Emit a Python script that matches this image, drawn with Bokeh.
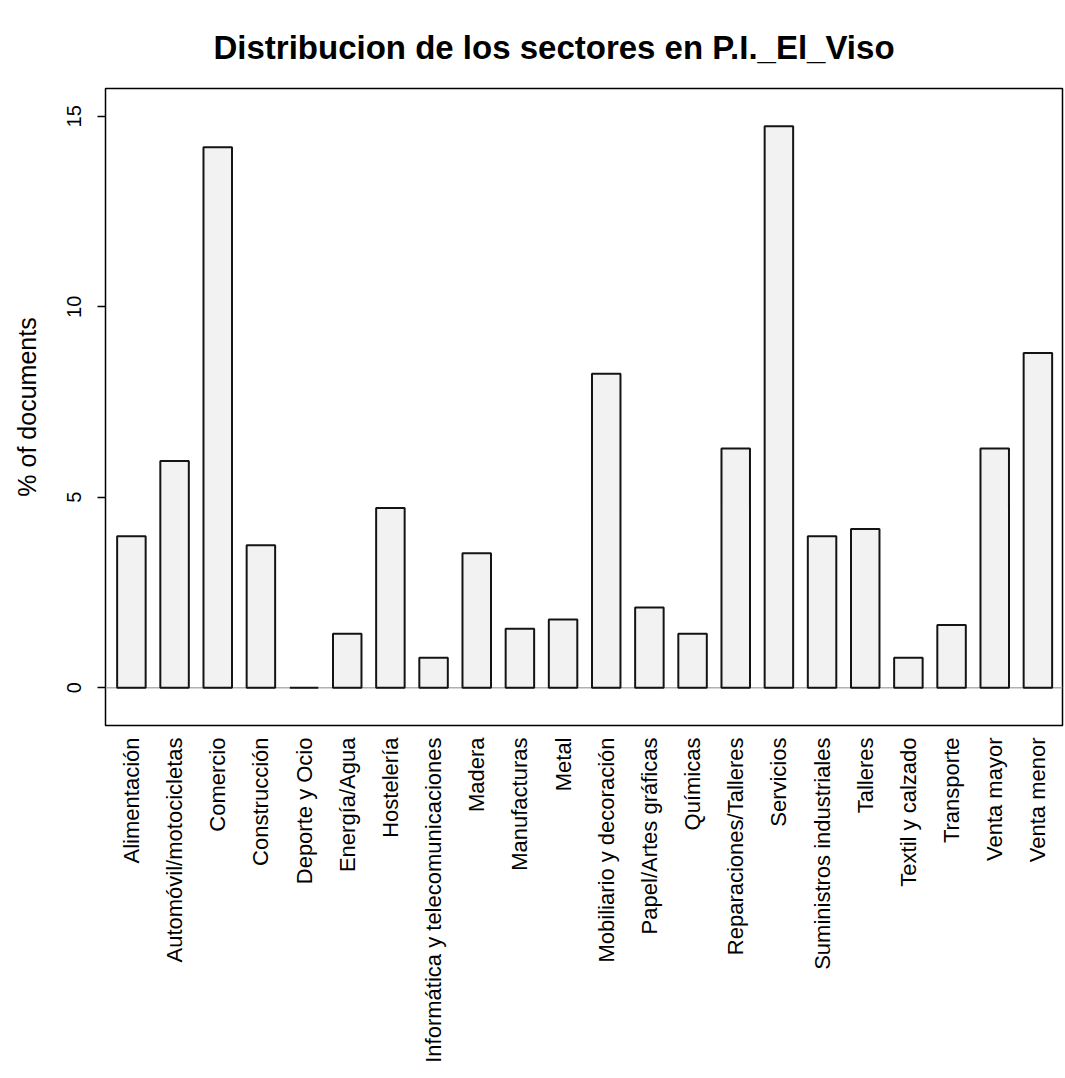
import math
from bokeh.plotting import figure
from bokeh.models import Range1d, FixedTicker, Span, ColumnDataSource
from bokeh.embed import file_html
from bokeh.resources import INLINE

categories = ["Alimentación", "Automóvil/motocicletas", "Comercio", "Construcción",
              "Deporte y Ocio", "Energía/Agua", "Hostelería",
              "Informática y telecomunicaciones", "Madera", "Manufacturas", "Metal",
              "Mobiliario y decoración", "Papel/Artes gráficas", "Químicas",
              "Reparaciones/Talleres", "Servicios", "Suministros industriales",
              "Talleres", "Textil y calzado", "Transporte", "Venta mayor", "Venta menor"]
pct_documents = [3.98, 5.95, 14.19, 3.74, 0.0, 1.42, 4.72, 0.79, 3.53, 1.55, 1.79,
                 8.24, 2.11, 1.42, 6.28, 14.74, 3.98, 4.17, 0.79, 1.65, 6.28, 8.79]
y_ticks = [0, 5, 10, 15]
title_text = "Distribucion de los sectores en P.I._El_Viso"
y_label = "% of documents"

FONT = "Liberation Sans"
idx = list(range(len(categories)))
src = ColumnDataSource(dict(x=idx, top=pct_documents, cat=categories))

p = figure(width=1064, height=1076, output_backend="svg", toolbar_location=None,
           x_range=Range1d(-0.6, len(categories) - 1 + 0.57),
           y_range=Range1d(-0.99, 15.73),
           min_border_left=105, min_border_right=2, min_border_top=88,
           min_border_bottom=351)

p.title.text = title_text
p.title.text_font = FONT
p.title.text_font_size = "33px"
p.title.text_font_style = "bold"
p.title.text_color = "black"
p.title.align = "left"
p.title.offset = 108
p.title.standoff = 45

p.xgrid.visible = False
p.ygrid.visible = False
p.outline_line_color = "black"
p.outline_line_width = 1.5
p.background_fill_color = "white"
p.border_fill_color = "white"

zero = Span(location=0, dimension="width", line_color="#b0b0b0", line_width=1.5,
            level="underlay")
p.add_layout(zero)

p.vbar(x="x", top="top", bottom=0, width=0.66, source=src,
       fill_color="#f2f2f2", line_color="#141414", line_width=2)

# y axis
ya = p.yaxis[0]
ya.ticker = FixedTicker(ticks=y_ticks)
ya.minor_tick_line_color = None
ya.axis_line_color = None
ya.major_tick_in = 0
ya.major_tick_out = 8
ya.major_tick_line_width = 1.5
ya.major_tick_line_color = "black"
ya.major_label_orientation = "vertical"
ya.major_label_text_font = FONT
ya.major_label_text_font_size = "20px"
ya.major_label_text_color = "black"
ya.major_label_standoff = 16
ya.axis_label = y_label
ya.axis_label_text_font = FONT
ya.axis_label_text_font_size = "25px"
ya.axis_label_text_font_style = "normal"
ya.axis_label_text_color = "black"
ya.axis_label_standoff = 24

# x axis
xa = p.xaxis[0]
xa.ticker = FixedTicker(ticks=idx)
xa.major_label_overrides = {i: c for i, c in zip(idx, categories)}
xa.major_label_orientation = math.pi / 2
xa.major_label_text_font = FONT
xa.major_label_text_font_size = "22px"
xa.major_label_text_color = "black"
xa.major_tick_line_color = None
xa.major_tick_out = 0
xa.major_tick_in = 0
xa.minor_tick_line_color = None
xa.axis_line_color = None
xa.major_label_standoff = 12

open("out.html", "w").write(file_html(p, INLINE))
